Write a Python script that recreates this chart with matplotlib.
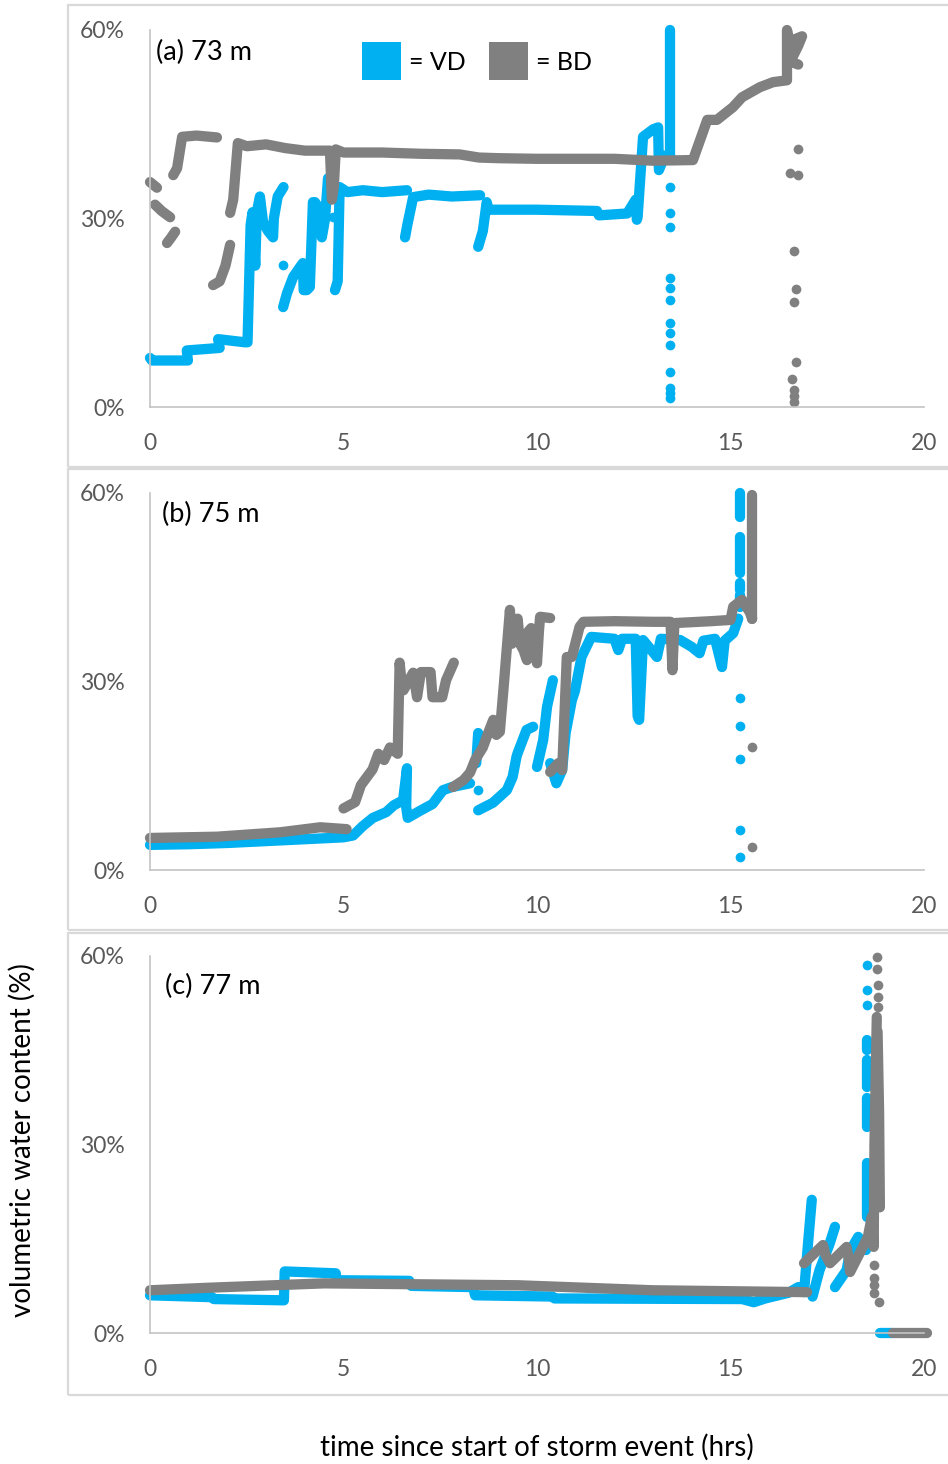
import matplotlib
matplotlib.use("Agg")
import matplotlib.pyplot as plt
from matplotlib.patches import Rectangle
import numpy as np

plt.rcParams['font.family'] = ['Lato', 'DejaVu Sans']

# ---------------- data (time in hrs, water content in %) ----------------
X_TICKS = [0, 5, 10, 15, 20]
Y_TICKS = [0, 30, 60]
Y_TICK_LABELS = ['0%', '30%', '60%']
PANEL_LABELS = ['(a) 73 m', '(b) 75 m', '(c) 77 m']
SERIES_NAMES = ['VD', 'BD']
COLORS = {'VD': '#00B0F0', 'BD': '#808080'}

# Panel (a) 73 m
A_VD_LINES = [
    [(0, 7.8), (0.05, 7.4), (0.98, 7.4), (0.95, 9.0), (1.8, 9.4), (1.76, 10.8), (2.45, 10.3),
     (2.52, 10.3), (2.6, 29.0), (2.65, 31), (2.72, 22.5), (2.76, 31), (2.84, 33.5), (2.92, 29.5),
     (3.05, 28), (3.18, 27), (3.2, 30), (3.3, 33.5), (3.45, 35)],
    [(3.44, 15.9), (3.54, 18.1), (3.7, 20.7), (3.88, 22.3), (3.95, 22.9), (3.97, 18.6), (4.05, 18.6),
     (4.13, 19.1), (4.21, 32.6), (4.26, 32.6), (4.4, 31.4), (4.44, 27), (4.52, 29.8), (4.6, 36.4)],
    [(4.78, 18.6), (4.85, 20), (4.9, 35), (5.1, 34.2), (5.5, 34.5), (6.0, 34.2), (6.64, 34.5)],
    [(6.59, 27), (6.65, 29), (6.8, 33.4), (7.2, 33.8), (7.8, 33.5), (8.53, 33.7)],
    [(8.48, 25.5), (8.6, 28), (8.7, 32.6), (8.75, 31.4), (10.0, 31.4), (11.55, 31.2), (11.6, 30.5),
     (12.33, 30.8), (12.45, 32), (12.55, 33), (12.58, 29.8), (12.6, 30.2), (12.74, 43),
     (13.0, 44.2), (13.13, 44.5), (13.15, 37.7), (13.3, 40), (13.44, 40)],
    [(13.44, 40), (13.44, 60)],
]
A_VD_DOTS = [(3.44, 22.6), (4.73, 30.2), (13.44, 35), (13.44, 30.9), (13.44, 28.6), (13.44, 20.5),
             (13.44, 18.9), (13.44, 17), (13.44, 13.4), (13.44, 11.8), (13.44, 9.9), (13.44, 5.6),
             (13.44, 3), (13.44, 2.2), (13.44, 1.4)]
A_BD_LINES = [
    [(0, 35.8), (0.18, 34.9)],
    [(0.13, 32.2), (0.3, 31.2), (0.52, 30.2)],
    [(0.44, 26.1), (0.55, 27), (0.65, 27.9)],
    [(0.6, 36.9), (0.7, 38), (0.83, 43), (1.2, 43.2), (1.73, 42.9)],
    [(1.63, 19.4), (1.8, 20), (1.95, 22.5), (2.07, 25.8)],
    [(2.07, 30.9), (2.15, 33), (2.27, 42), (2.5, 41.5), (3.0, 41.8), (3.5, 41.2), (4.0, 40.8),
     (4.65, 40.8), (4.7, 33), (4.75, 35), (4.8, 41), (5.0, 40.5), (6.0, 40.5), (7.0, 40.3),
     (8.0, 40.2), (8.5, 39.7), (9.0, 39.6), (10.0, 39.5), (11.0, 39.5), (12.0, 39.5), (13.0, 39.2),
     (14.03, 39.3), (14.4, 45.7), (14.65, 45.7), (15.06, 47.7), (15.3, 49.3), (15.76, 50.9),
     (16.1, 51.7), (16.46, 52), (16.46, 60), (16.55, 57), (16.65, 58.5), (16.85, 59),
     (16.75, 57.5), (16.55, 55), (16.75, 54.5)],
]
A_BD_DOTS = [(16.75, 41), (16.55, 37.2), (16.75, 36.9), (16.63, 24.8), (16.7, 18.8), (16.63, 16.7),
             (16.7, 7.2), (16.58, 4.5), (16.63, 2.7), (16.63, 1.8), (16.63, 0.8)]

# Panel (b) 75 m
B_VD_LINES = [
    [(0, 4.0), (1, 4.1), (2, 4.3), (3, 4.6), (4, 4.9), (5, 5.2), (5.25, 5.5), (5.5, 7), (5.76, 8.3),
     (6.1, 9.2), (6.3, 10.3), (6.54, 11.1), (6.64, 16.2), (6.62, 10), (6.66, 8.3), (7.0, 9.5),
     (7.3, 10.5), (7.57, 12.7), (7.8, 13.2), (8.27, 13.8)],
    [(8.43, 17), (8.48, 21.8)],
    [(8.48, 9.5), (8.86, 10.7), (9.22, 12.7), (9.37, 14.8), (9.47, 18), (9.5, 18.6), (9.73, 22.3),
     (9.9, 22.8)],
    [(10.0, 16.4), (10.16, 20.7), (10.26, 26), (10.41, 30.2)],
    [(10.34, 17), (10.5, 13.8), (10.65, 15.9), (10.74, 21.8), (10.9, 27), (10.98, 28.5),
     (11.15, 33.9), (11.4, 37.1), (11.6, 37), (12.0, 36.8), (12.1, 35), (12.2, 36.8), (12.55, 36.8),
     (12.6, 24.5), (12.64, 23.9), (12.74, 36.6), (13.1, 33.9), (13.2, 36.8), (13.7, 36.6),
     (14.0, 35.5), (14.2, 34.5), (14.3, 36.5), (14.6, 36.8), (14.78, 32.3), (14.85, 36.5),
     (15.07, 37.7), (15.2, 40)],
    [(15.25, 41.9), (15.25, 43.8)],
    [(15.25, 44.6), (15.25, 45.7)],
    [(15.25, 47.3), (15.25, 53)],
    [(15.25, 56.2), (15.25, 60)],
]
B_VD_DOTS = [(8.48, 12.7), (15.25, 27.4), (15.25, 22.9), (15.25, 17.7), (15.25, 6.4), (15.25, 2.1)]
B_BD_LINES = [
    [(0, 5.1), (1.73, 5.3), (3.36, 6.0), (4.4, 6.8), (5.08, 6.5)],
    [(5.0, 9.8), (5.3, 10.8), (5.45, 13.5), (5.75, 16), (5.9, 18.5), (6.05, 17.5), (6.2, 19.5),
     (6.4, 18.5), (6.45, 33), (6.5, 30), (6.55, 28.6), (6.8, 31.4), (6.9, 27.5), (7.0, 31.5),
     (7.25, 31.5), (7.3, 27.5), (7.55, 27.5), (7.65, 30.2), (7.85, 33)],
    [(7.83, 13.2), (8.1, 14.3), (8.27, 15.5), (8.4, 17.5), (8.6, 19.5), (8.75, 22), (8.87, 23.9),
     (8.95, 21.5), (9.04, 22), (9.15, 30), (9.3, 41.4), (9.35, 36), (9.45, 37), (9.5, 40),
     (9.56, 36), (9.65, 35), (9.74, 33.4), (9.78, 38), (9.85, 38.5), (9.95, 35), (10.0, 32.9),
     (10.05, 38), (10.08, 40.3), (10.34, 40.1)],
    [(10.34, 15.6), (10.55, 17), (10.65, 15.9), (10.77, 33.9), (10.9, 33.9), (11.1, 38.7),
     (11.2, 39.5), (12.0, 39.6), (13.0, 39.5), (13.45, 39.5), (13.5, 31.8), (13.55, 39.3),
     (14.5, 39.6), (15.0, 39.8), (15.07, 41.9), (15.3, 43), (15.5, 41), (15.56, 40)],
    [(15.56, 40), (15.56, 59.7)],
]
B_BD_DOTS = [(15.56, 19.6), (15.56, 3.7)]

# Panel (c) 77 m
C_VD_LINES = [
    [(0, 6.0), (1.6, 5.7), (1.65, 5.4), (3.46, 5.2), (3.48, 9.8), (4.8, 9.5), (4.82, 8.4),
     (6.7, 8.3), (6.75, 7.5), (8.35, 7.3), (8.4, 6.0), (10.4, 5.8), (10.45, 5.5), (15.3, 5.4),
     (15.6, 4.9), (15.9, 5.5), (16.5, 6.4), (16.75, 7.3), (16.9, 6.5), (17.0, 14), (17.1, 21.2)],
    [(17.12, 5.8), (17.3, 10), (17.55, 14), (17.7, 16.9)],
    [(17.7, 7.3), (18.0, 10), (18.1, 13.2), (18.3, 15.3), (18.5, 13.2)],
    [(18.53, 18.5), (18.53, 27)],
    [(18.53, 32.8), (18.53, 37.4)],
    [(18.53, 39.2), (18.53, 43.4)],
    [(18.53, 45), (18.53, 46.6)],
    [(18.86, 0), (19.2, 0)],
]
C_VD_DOTS = [(18.53, 58.6), (18.53, 54.6), (18.53, 52.2)]
C_BD_LINES = [
    [(0, 6.8), (1.5, 7.2), (4.5, 7.9), (9.5, 7.6), (13.0, 6.8), (16.98, 6.5)],
    [(16.9, 11.1), (17.39, 14), (17.45, 12.5), (17.57, 11.1), (18.0, 13.7), (18.05, 12),
     (18.09, 9.7), (18.42, 13.7), (18.55, 15.3), (18.65, 18.5), (18.7, 13.7), (18.72, 30),
     (18.78, 50.3)],
    [(18.86, 20), (18.84, 35), (18.8, 48)],
    [(19.2, 0), (20.08, 0)],
]
C_BD_DOTS = [(18.78, 59.8), (18.78, 58), (18.8, 55.4), (18.8, 53.5), (18.82, 51.9),
             (18.72, 10.8), (18.72, 8.8), (18.72, 7.6), (18.72, 6.4), (18.85, 4.9)]

PANELS = [
    (A_VD_LINES, A_VD_DOTS, A_BD_LINES, A_BD_DOTS),
    (B_VD_LINES, B_VD_DOTS, B_BD_LINES, B_BD_DOTS),
    (C_VD_LINES, C_VD_DOTS, C_BD_LINES, C_BD_DOTS),
]

# ---------------- layout ----------------
W, H = 948, 1464
fig = plt.figure(figsize=(W / 100, H / 100), dpi=100)


def fx(px):
    return px / W


def fy(py):
    return 1 - py / H


# axes pixel boxes: (left, right, top(60%), bottom(0%))
AX_BOXES = [(150, 924, 30, 407), (150, 924, 493, 870), (150, 924, 956, 1333)]
FRAMES = [(5, 467), (469, 930), (933, 1395)]
LABEL_POS = [(156, 52), (162, 514), (165, 986)]

LW = 7.4
MS = 7.0
tick_color = '#595959'
spine_color = '#c4c4c4'

for i, ((l, r, t, b), (ft, fb)) in enumerate(zip(AX_BOXES, FRAMES)):
    fig.add_artist(Rectangle((fx(68), fy(fb)), fx(W + 10 - 68), fy(ft) - fy(fb),
                             transform=fig.transFigure, fill=False,
                             edgecolor='#d9d9d9', linewidth=1.6))
    ax = fig.add_axes([fx(l), fy(b), fx(r - l), fy(t) - fy(b)])
    vd_lines, vd_dots, bd_lines, bd_dots = PANELS[i]
    for series, lines, dots in (('VD', vd_lines, vd_dots), ('BD', bd_lines, bd_dots)):
        c = COLORS[series]
        for seg in lines:
            xs = [p[0] for p in seg]
            ys = [p[1] for p in seg]
            ax.plot(xs, ys, color=c, lw=LW, solid_capstyle='round',
                    solid_joinstyle='round', clip_on=False)
        if dots:
            ax.plot([p[0] for p in dots], [p[1] for p in dots], 'o', color=c,
                    ms=MS, mew=0, clip_on=False)
    ax.set_xlim(0, 20)
    ax.set_ylim(0, 60)
    ax.set_xticks(X_TICKS)
    ax.set_xticklabels([str(v) for v in X_TICKS])
    ax.set_yticks(Y_TICKS)
    ax.set_yticklabels(Y_TICK_LABELS)
    ax.tick_params(axis='both', length=0, labelsize=16.5, labelcolor=tick_color)
    ax.tick_params(axis='x', pad=19)
    ax.tick_params(axis='y', pad=18)
    for s in ('top', 'right'):
        ax.spines[s].set_visible(False)
    for s in ('left', 'bottom'):
        ax.spines[s].set_color(spine_color)
        ax.spines[s].set_linewidth(1.2)
    ax.patch.set_alpha(0)
    lx, ly = LABEL_POS[i]
    fig.text(fx(lx), fy(ly), PANEL_LABELS[i], fontsize=19.5, color='black',
             ha='left', va='center')

# legend squares
for (x0, x1, tx), name in zip([(362, 401, 409), (489, 528, 536)], SERIES_NAMES):
    fig.add_artist(Rectangle((fx(x0), fy(80)), fx(x1 - x0), fy(42) - fy(80),
                             transform=fig.transFigure, facecolor=COLORS[name],
                             edgecolor='none'))
    fig.text(fx(tx), fy(62), '= ' + name, fontsize=18, color='black',
             ha='left', va='center')

fig.text(fx(22), fy(1140), 'volumetric water content (%)', rotation=90,
         fontsize=20, ha='center', va='center', color='black')
fig.text(fx(537), fy(1447), 'time since start of storm event (hrs)',
         fontsize=20, ha='center', va='center', color='black')

fig.savefig('out.png', dpi=100)
